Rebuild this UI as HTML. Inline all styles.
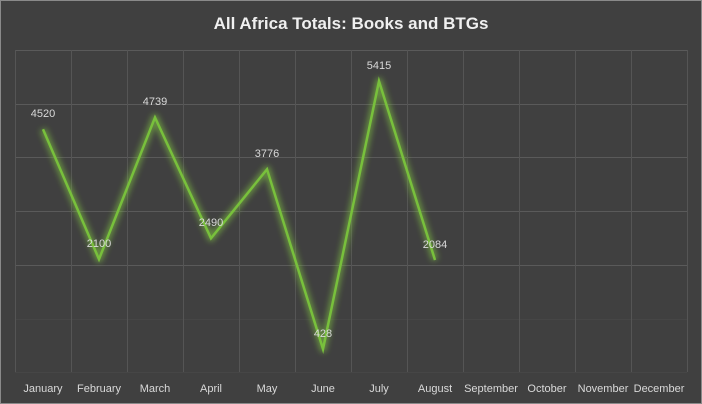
<!DOCTYPE html>
<html><head><style>
body{margin:0;background:#404040;}
svg{display:block;font-family:"Liberation Sans",sans-serif;}
</style></head><body>
<svg width="702" height="404" viewBox="0 0 702 404">
<defs><filter id="g" x="-10%" y="-10%" width="120%" height="120%"><feGaussianBlur stdDeviation="3"/></filter></defs>
<rect x="0.5" y="0.5" width="701" height="403" fill="#404040" stroke="#8a8a8a"/>
<text x="351" y="29" text-anchor="middle" fill="#f0f0f0" font-size="17" font-weight="bold">All Africa Totals: Books and BTGs</text>
<g stroke="#5a5a5a" stroke-width="1">
<line x1="15" y1="50.5" x2="687" y2="50.5"/>
<line x1="15" y1="104.5" x2="687" y2="104.5"/>
<line x1="15" y1="157.5" x2="687" y2="157.5"/>
<line x1="15" y1="211.5" x2="687" y2="211.5"/>
<line x1="15" y1="265.5" x2="687" y2="265.5"/>
</g>
<g stroke="#464646" stroke-width="1">
<line x1="15" y1="319.5" x2="687" y2="319.5"/>
<line x1="15" y1="372.5" x2="687" y2="372.5"/>
</g>
<g stroke="#555" stroke-width="1">
<line x1="15.5" y1="50" x2="15.5" y2="372"/><line x1="71.5" y1="50" x2="71.5" y2="372"/><line x1="127.5" y1="50" x2="127.5" y2="372"/><line x1="183.5" y1="50" x2="183.5" y2="372"/><line x1="239.5" y1="50" x2="239.5" y2="372"/><line x1="295.5" y1="50" x2="295.5" y2="372"/><line x1="351.5" y1="50" x2="351.5" y2="372"/><line x1="407.5" y1="50" x2="407.5" y2="372"/><line x1="463.5" y1="50" x2="463.5" y2="372"/><line x1="519.5" y1="50" x2="519.5" y2="372"/><line x1="575.5" y1="50" x2="575.5" y2="372"/><line x1="631.5" y1="50" x2="631.5" y2="372"/><line x1="687.5" y1="50" x2="687.5" y2="372"/>
</g>
<polyline points="43,129.3 99,259.2 155,117.5 211,238.3 267,169.3 323,349 379,81.2 435,260" fill="none" stroke="#7fc040" stroke-width="7" stroke-opacity="0.6" filter="url(#g)" stroke-linejoin="round"/>
<polyline points="43,129.3 99,259.2 155,117.5 211,238.3 267,169.3 323,349 379,81.2 435,260" fill="none" stroke="#78c03c" stroke-width="2.5" stroke-linejoin="miter"/>
<g fill="#d9d9d9" font-size="11" text-anchor="middle">
<text x="43" y="117">4520</text><text x="99" y="247">2100</text><text x="155" y="105">4739</text><text x="211" y="226">2490</text><text x="267" y="157">3776</text><text x="323" y="337">428</text><text x="379" y="69">5415</text><text x="435" y="248">2084</text>
</g>
<g fill="#d9d9d9" font-size="11" text-anchor="middle">
<text x="43" y="392">January</text><text x="99" y="392">February</text><text x="155" y="392">March</text><text x="211" y="392">April</text><text x="267" y="392">May</text><text x="323" y="392">June</text><text x="379" y="392">July</text><text x="435" y="392">August</text><text x="491" y="392">September</text><text x="547" y="392">October</text><text x="603" y="392">November</text><text x="659" y="392">December</text>
</g>
</svg>
</body></html>
